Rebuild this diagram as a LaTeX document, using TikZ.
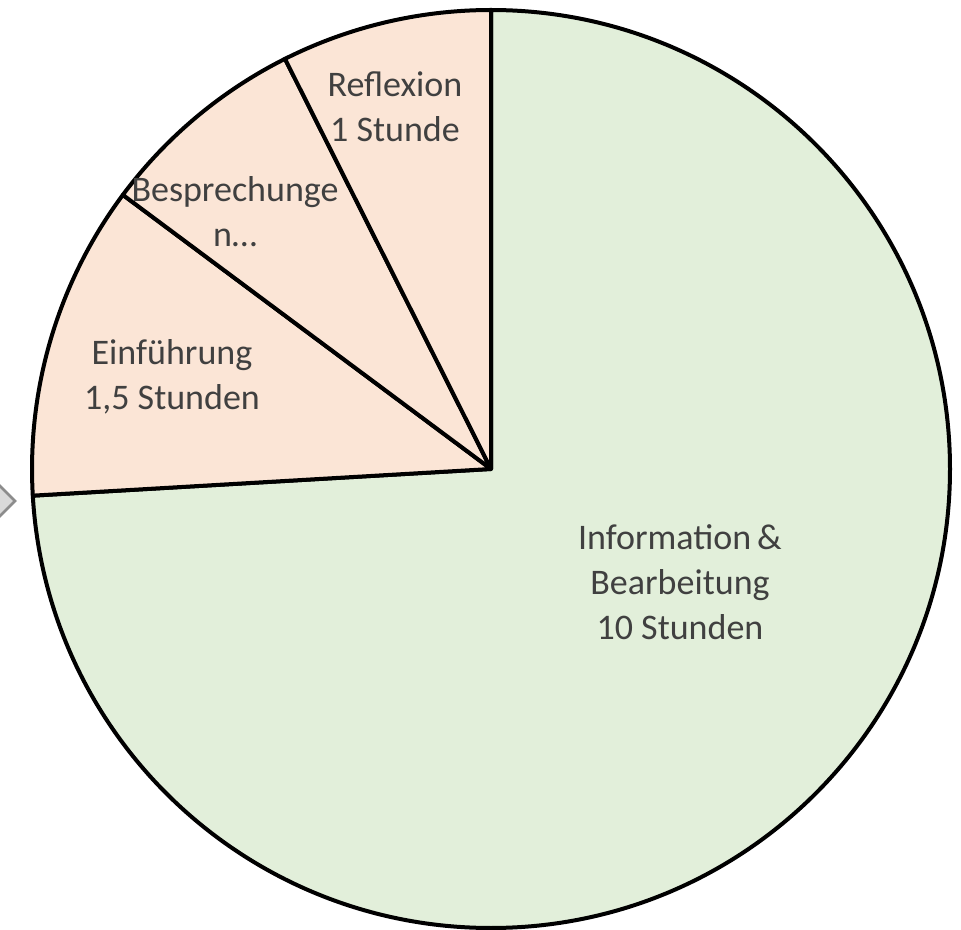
\documentclass[tikz,border=0pt]{standalone}
\usepackage{fontspec}
\setmainfont{Carlito}
\definecolor{peach}{HTML}{FBE5D6}
\definecolor{leaf}{HTML}{E2EFDA}
\definecolor{txt}{HTML}{404040}
\definecolor{chevfill}{HTML}{D9D9D9}
\definecolor{chevline}{HTML}{8C8C8C}
\begin{document}
\begin{tikzpicture}[x=0.75pt,y=-0.75pt,
  slice/.style={draw=black,line width=3pt,line join=round},
  lbl/.style={text=txt,font=\fontsize{27}{33.75}\selectfont,align=center,inner sep=0pt}]
\useasboundingbox (0,0) rectangle (961,930);
\coordinate (c) at (491,469);
\def\R{459}
% chevron at left edge
\filldraw[fill=chevfill,draw=chevline,line width=2pt] (-8,478) -- (15,501) -- (-8,524);
% slices
\filldraw[slice,fill=leaf] (c) -- ++(-90:\R) arc[start angle=-90,end angle=176.67,radius=\R] -- cycle;
\filldraw[slice,fill=peach] (c) -- ++(176.67:\R) arc[start angle=176.67,end angle=216.67,radius=\R] -- cycle;
\filldraw[slice,fill=peach] (c) -- ++(216.67:\R) arc[start angle=216.67,end angle=243.33,radius=\R] -- cycle;
\filldraw[slice,fill=peach] (c) -- ++(243.33:\R) arc[start angle=243.33,end angle=270,radius=\R] -- cycle;
% labels
\node[lbl] (info) at (680,582) {Information\,\&\\Bearbeitung\\10 Stunden};
\node[lbl] (einf) at (172,377) {Einführung\\1,5 Stunden};
\node[lbl] (besp) at (235,212) {Besprechunge\\n…};
\node[lbl] (refl) at (395,107) {Reflexion\\1 Stunde};
\end{tikzpicture}
\end{document}
